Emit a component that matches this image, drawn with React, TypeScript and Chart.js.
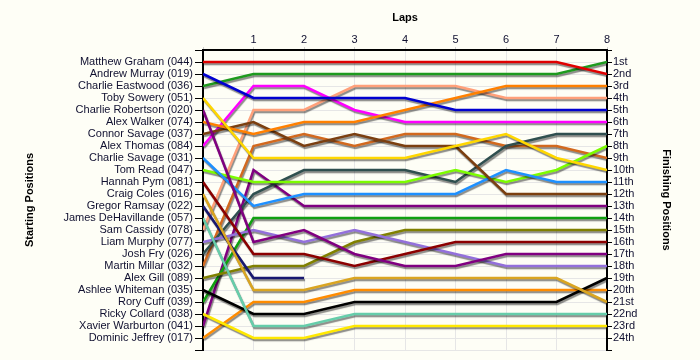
import React, { useEffect, useRef } from 'react';
import { Chart, registerables } from 'chart.js';

Chart.register(...registerables);

const laps = [0, 1, 2, 3, 4, 5, 6, 7, 8];
const lapTicks = ['', '1', '2', '3', '4', '5', '6', '7', '8'];

const drivers = [
  'Matthew Graham (044)', 'Andrew Murray (019)', 'Charlie Eastwood (036)', 'Toby Sowery (051)',
  'Charlie Robertson (020)', 'Alex Walker (074)', 'Connor Savage (037)', 'Alex Thomas (084)',
  'Charlie Savage (031)', 'Tom Read (047)', 'Hannah Pym (081)', 'Craig Coles (016)',
  'Gregor Ramsay (022)', 'James DeHavillande (057)', 'Sam Cassidy (078)', 'Liam Murphy (077)',
  'Josh Fry (026)', 'Martin Millar (032)', 'Alex Gill (089)', 'Ashlee Whiteman (035)',
  'Rory Cuff (039)', 'Ricky Collard (038)', 'Xavier Warburton (041)', 'Dominic Jeffrey (017)',
];

const finishLabels = [
  '1st', '2nd', '3rd', '4th', '5th', '6th', '7th', '8th', '9th', '10th', '11th', '12th',
  '13th', '14th', '15th', '16th', '17th', '18th', '19th', '20th', '21st', '22nd', '23rd', '24th',
];

// positions per lap (lap 0 = start)
const matthewGraham = [1, 1, 1, 1, 1, 1, 1, 1, 2];
const andrewMurray = [2, 4, 4, 4, 4, 5, 5, 5, 5];
const charlieEastwood = [3, 2, 2, 2, 2, 2, 2, 2, 1];
const tobySowery = [4, 9, 9, 9, 9, 8, 7, 9, 10];
const charlieRobertson = [5, 16, 15, 17, 18, 18, 17, 17, 17];
const alexWalker = [6, 7, 6, 6, 5, 4, 3, 3, 3];
const connorSavage = [7, 6, 8, 7, 8, 8, 12, 12, 12];
const alexThomas = [8, 3, 3, 5, 6, 6, 6, 6, 6];
const charlieSavage = [9, 13, 12, 12, 12, 12, 10, 11, 11];
const tomRead = [10, 11, 11, 11, 11, 10, 11, 10, 8];
const hannahPym = [11, 17, 17, 18, 17, 16, 16, 16, 16];
const craigColes = [12, 20, 20, 19, 19, 19, 19, 19, 21];
const gregorRamsay = [13, 19, 19];
const jamesDeHavillande = [14, 23, 23, 22, 22, 22, 22, 22, 22];
const samCassidy = [15, 5, 5, 3, 3, 3, 4, 4, 4];
const liamMurphy = [16, 15, 16, 15, 16, 17, 18, 18, 18];
const joshFry = [17, 12, 10, 10, 10, 11, 8, 7, 7];
const martinMillar = [18, 8, 7, 8, 7, 7, 8, 8, 9];
const alexGill = [19, 18, 18, 16, 15, 15, 15, 15, 15];
const ashleeWhiteman = [20, 22, 22, 21, 21, 21, 21, 21, 19];
const roryCuff = [21, 14, 14, 14, 14, 14, 14, 14, 14];
const rickyCollard = [22, 24, 24, 23, 23, 23, 23, 23, 23];
const xavierWarburton = [23, 10, 13, 13, 13, 13, 13, 13, 13];
const dominicJeffrey = [24, 21, 21, 20, 20, 20, 20, 20, 20];

const series = [
  matthewGraham, andrewMurray, charlieEastwood, tobySowery, charlieRobertson, alexWalker,
  connorSavage, alexThomas, charlieSavage, tomRead, hannahPym, craigColes, gregorRamsay,
  jamesDeHavillande, samCassidy, liamMurphy, joshFry, martinMillar, alexGill, ashleeWhiteman,
  roryCuff, rickyCollard, xavierWarburton, dominicJeffrey,
];

const colors = [
  '#E00000', '#0000D0', '#1E9A1E', '#FFD700', '#800080', '#FF8000',
  '#7B3F10', '#FF00FF', '#1E90FF', '#7CFC00', '#8B0000', '#DAA520', '#191970',
  '#66CDAA', '#FFA07A', '#9370DB', '#2F4F4F', '#D2691E', '#808000', '#000000',
  '#10A010', '#FFE800', '#800080', '#FF8C00',
];

const BG = '#FEFEF6';
const TEXT = '#101030';

const shadowPlugin = {
  id: 'lineShadow',
  beforeDatasetsDraw(chart: any) {
    const c = chart.ctx;
    c.save();
    c.shadowColor = 'rgba(0,0,0,0.45)';
    c.shadowOffsetX = 1;
    c.shadowOffsetY = 2;
    c.shadowBlur = 1;
  },
  afterDatasetsDraw(chart: any) {
    chart.ctx.restore();
  },
};

const bgPlugin = {
  id: 'bg',
  beforeDraw(chart: any) {
    const c = chart.ctx;
    c.save();
    c.fillStyle = BG;
    c.fillRect(0, 0, chart.width, chart.height);
    c.restore();
  },
};

export default function App() {
  const ref = useRef<HTMLCanvasElement | null>(null);

  useEffect(() => {
    document.body.style.margin = '0';
    document.body.style.background = BG;
    if (!ref.current) return;
    const datasets = series.map((pos, i) => ({
      label: drivers[i],
      data: pos.map((p, j) => ({ x: laps[j], y: p })),
      borderColor: colors[i],
      backgroundColor: colors[i],
      borderWidth: 2.5,
      pointRadius: 0,
      tension: 0,
      fill: false,
      yAxisID: 'y',
      xAxisID: 'x',
    }));

    const chart = new Chart(ref.current, {
      type: 'line',
      data: { datasets },
      plugins: [bgPlugin, shadowPlugin],
      options: {
        animation: false,
        responsive: false,
        events: [],
        layout: { padding: { top: 0, bottom: 10, left: 0, right: 0 } },
        plugins: { legend: { display: false }, tooltip: { enabled: false } },
        font: { family: 'Liberation Sans, Arial, sans-serif', size: 11 },
        scales: {
          x: {
            type: 'linear',
            position: 'top',
            min: 0,
            max: 8,
            afterFit: (s: any) => { s.height = 50; },
            ticks: {
              stepSize: 1,
              autoSkip: false,
              padding: 0,
              color: TEXT,
              font: { family: 'Liberation Sans, Arial, sans-serif', size: 11 },
              callback: (v: any) => lapTicks[Number(v)] ?? '',
            },
            grid: { color: '#E6E6E6', tickColor: '#D0D0D0', tickLength: 3, lineWidth: 1 },
            border: { display: true, color: '#000', width: 2 },
            title: {
              display: true,
              text: 'Laps',
              color: '#000',
              padding: { top: 11, bottom: 0 },
              font: { family: 'Liberation Sans, Arial, sans-serif', size: 11, weight: 'bold' },
            },
          },
          y: {
            type: 'linear',
            position: 'left',
            reverse: true,
            min: 0,
            max: 25,
            afterFit: (s: any) => { s.width = 203; },
            ticks: {
              stepSize: 1,
              autoSkip: false,
              padding: 2,
              color: TEXT,
              font: { family: 'Liberation Sans, Arial, sans-serif', size: 11 },
              callback: (v: any) => drivers[Number(v) - 1] ?? '',
            },
            grid: { color: '#E6E6E6', tickColor: '#000', tickLength: 8, lineWidth: 1 },
            border: { display: true, color: '#000', width: 2 },
            title: {
              display: true,
              text: 'Starting Positions',
              color: '#000',
              padding: { top: 23, bottom: 0 },
              font: { family: 'Liberation Sans, Arial, sans-serif', size: 11, weight: 'bold' },
            },
          },
          y2: {
            type: 'linear',
            position: 'right',
            reverse: true,
            min: 0,
            max: 25,
            afterFit: (s: any) => { s.width = 93; },
            ticks: {
              stepSize: 1,
              autoSkip: false,
              padding: 1,
              color: TEXT,
              font: { family: 'Liberation Sans, Arial, sans-serif', size: 11 },
              callback: (v: any) => finishLabels[Number(v) - 1] ?? '',
            },
            grid: { drawOnChartArea: false, tickColor: '#000', tickLength: 5, lineWidth: 1 },
            border: { display: true, color: '#000', width: 2 },
            title: {
              display: true,
              text: 'Finishing Positions',
              color: '#000',
              padding: { top: 27, bottom: 0 },
              font: { family: 'Liberation Sans, Arial, sans-serif', size: 11, weight: 'bold' },
            },
          },
        },
      } as any,
    });
    return () => chart.destroy();
  }, []);

  return (
    <div style={{ width: 700, height: 360, background: BG }}>
      <canvas ref={ref} width={700} height={360} style={{ display: 'block' }} />
    </div>
  );
}
